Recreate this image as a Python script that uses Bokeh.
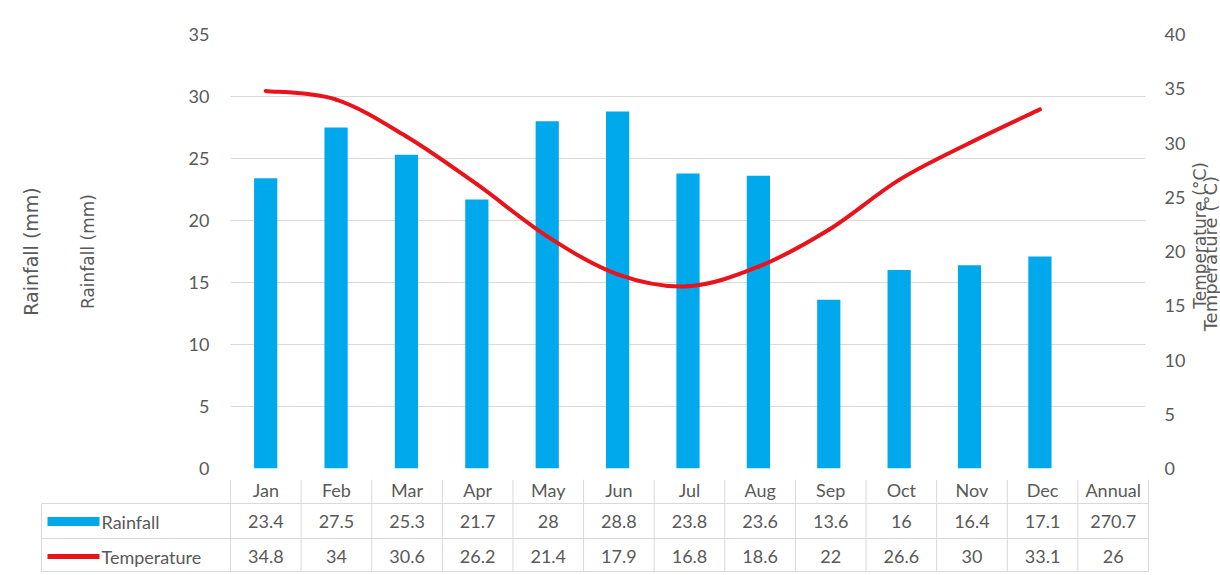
import math
from bokeh.plotting import figure
from bokeh.models import Range1d, LinearAxis, FixedTicker, ColumnDataSource
from bokeh.layouts import row
from bokeh.embed import file_html
from bokeh.resources import INLINE
from bokeh.core.properties import value

# ---------------- data ----------------
months = ["Jan", "Feb", "Mar", "Apr", "May", "Jun", "Jul", "Aug", "Sep", "Oct", "Nov", "Dec"]
rainfall = [23.4, 27.5, 25.3, 21.7, 28, 28.8, 23.8, 23.6, 13.6, 16, 16.4, 17.1]
temperature = [34.8, 34, 30.6, 26.2, 21.4, 17.9, 16.8, 18.6, 22, 26.6, 30, 33.1]
annual_label = "Annual"
annual_rainfall = 270.7
annual_temperature = 26
series_names = ["Rainfall", "Temperature"]
rain_ticks = [0, 5, 10, 15, 20, 25, 30, 35]
temp_ticks = [0, 5, 10, 15, 20, 25, 30, 35, 40]
rain_axis_title = "Rainfall (mm)"
temp_axis_title = "Temperature (°C)"

# ---------------- layout / style ----------------
W, H = 1220, 575
MAIN_H = 479
MAIN_W = 1188
FL, FR = 230, 1148
FT, FB = 34, 468
n_cols = len(months) + 1
ppu = (FR - FL) / n_cols

FONT = "Lato"
TITLE_FONT = "DejaVu Sans"
TXT = "#595959"
BLUE = "#00A9EC"
RED = "#E8131B"
GRID = "#D9D9D9"
TICK_FS = "18px"


def fmt(v):
    return f"{v:g}"


p = figure(width=MAIN_W, height=MAIN_H,
           x_range=Range1d(0, n_cols), y_range=Range1d(0, rain_ticks[-1]),
           x_axis_location=None, output_backend="svg", toolbar_location=None,
           min_border_left=FL, min_border_right=MAIN_W - FR,
           min_border_top=FT, min_border_bottom=MAIN_H - FB,
           outline_line_color=None, background_fill_color="white",
           border_fill_color="white")
p.extra_y_ranges = {"temp": Range1d(0, temp_ticks[-1])}
p.xgrid.visible = False
p.ygrid.grid_line_color = GRID
p.ygrid.ticker = FixedTicker(ticks=rain_ticks)


def style_axis(ax, ticks, label, label_fs, label_standoff, tick_standoff=21):
    ax.ticker = FixedTicker(ticks=ticks)
    ax.axis_line_color = None
    ax.major_tick_line_color = None
    ax.minor_tick_line_color = None
    ax.major_tick_out = 0
    ax.major_tick_in = 0
    ax.major_label_standoff = tick_standoff
    ax.major_label_text_font = FONT
    ax.major_label_text_font_size = TICK_FS
    ax.major_label_text_color = TXT
    ax.axis_label = label
    ax.axis_label_text_font = TITLE_FONT
    ax.axis_label_text_font_size = label_fs
    ax.axis_label_text_font_style = "normal"
    ax.axis_label_text_color = TXT
    ax.axis_label_standoff = label_standoff


ly = p.yaxis[0]
style_axis(ly, rain_ticks, rain_axis_title, "17px", 88)
ly2 = LinearAxis()
style_axis(ly2, [], rain_axis_title, "19px", 33)
p.add_layout(ly2, "left")

ry = LinearAxis(y_range_name="temp")
style_axis(ry, temp_ticks, None, "17px", 0, tick_standoff=19)
p.add_layout(ry, "right")

xs = [i + 0.5 for i in range(len(months))]
src = ColumnDataSource(dict(x=xs, rain=rainfall, temp=temperature))
p.vbar(x="x", top="rain", width=0.33, bottom=0, source=src,
       fill_color=BLUE, line_color=None)

# smoothed temperature line (Bezier segments through the data points)
n = len(xs)
bx0, by0, bx1, by1, c0x, c0y, c1x, c1y = [], [], [], [], [], [], [], []
for i in range(n - 1):
    xm, ym = (xs[i - 1], temperature[i - 1]) if i > 0 else (xs[i], temperature[i])
    xp, yp = (xs[i + 2], temperature[i + 2]) if i + 2 < n else (xs[i + 1], temperature[i + 1])
    bx0.append(xs[i]); by0.append(temperature[i])
    bx1.append(xs[i + 1]); by1.append(temperature[i + 1])
    c0x.append(xs[i] + (xs[i + 1] - xm) / 6); c0y.append(temperature[i] + (temperature[i + 1] - ym) / 6)
    c1x.append(xs[i + 1] - (xp - xs[i]) / 6); c1y.append(temperature[i + 1] - (yp - temperature[i]) / 6)
p.bezier(x0=bx0, y0=by0, x1=bx1, y1=by1, cx0=c0x, cy0=c0y, cx1=c1x, cy1=c1y,
         y_range_name="temp", line_color=RED, line_width=4, line_cap="round")

# narrow strip holding the two overlapping right-hand axis titles
SW = W - MAIN_W
s = figure(width=SW, height=MAIN_H, x_range=Range1d(0, SW), y_range=Range1d(0, 1),
           x_axis_location=None, y_axis_location=None,
           output_backend="svg", toolbar_location=None,
           min_border_left=0, min_border_right=0,
           min_border_top=FT, min_border_bottom=MAIN_H - FB,
           outline_line_color=None, background_fill_color="white",
           border_fill_color="white")
s.grid.visible = False
s.text(x=[11], y=[0.537], text=[temp_axis_title],
       angle=math.pi / 2, text_font=value(TITLE_FONT), text_font_size="17px",
       text_color=TXT, text_align="center", text_baseline="middle")
s.text(x=[21.5], y=[0.495], text=[temp_axis_title],
       angle=math.pi / 2, text_font=value(TITLE_FONT), text_font_size="18px",
       text_color=TXT, text_align="center", text_baseline="middle")

top = row(p, s, spacing=0)

# ---------------- data table (separate root placed right below) ----------------
TH = H - MAIN_H
t = figure(width=W, height=TH,
           x_range=Range1d(-FL / ppu, (W - FL) / ppu), y_range=Range1d(TH, 0),
           x_axis_location=None, y_axis_location=None,
           output_backend="svg", toolbar_location=None,
           min_border=0, outline_line_color=None,
           background_fill_color="white", border_fill_color="white")
t.grid.visible = False

x_leg = (41 - FL) / ppu
y_top, y_h, y_r, y_bot = 0, 24, 59, 92
cy_h, cy_r, cy_t = 10, 42, 77

t.segment(x0=[x_leg] * 3, y0=[y_h, y_r, y_bot],
          x1=[n_cols] * 3, y1=[y_h, y_r, y_bot],
          line_color=GRID, line_width=1)
vx = list(range(n_cols + 1))
t.segment(x0=vx, y0=[y_top] * len(vx), x1=vx, y1=[y_bot] * len(vx),
          line_color=GRID, line_width=1)
t.segment(x0=[x_leg], y0=[y_h], x1=[x_leg], y1=[y_bot],
          line_color=GRID, line_width=1)

col_x = [i + 0.5 for i in range(n_cols)]
header = months + [annual_label]
rain_row = [fmt(v) for v in rainfall + [annual_rainfall]]
temp_row = [fmt(v) for v in temperature + [annual_temperature]]

tsrc = ColumnDataSource(dict(
    x=col_x * 3,
    y=[cy_h] * n_cols + [cy_r] * n_cols + [cy_t] * n_cols,
    txt=header + rain_row + temp_row))
t.text(x="x", y="y", text="txt", source=tsrc, text_font=value(FONT),
       text_font_size=TICK_FS, text_color=TXT,
       text_align="center", text_baseline="middle")

lx0 = (47 - FL) / ppu
lx1 = (99 - FL) / ppu
t.quad(left=[lx0], right=[lx1], top=[cy_r - 4.5], bottom=[cy_r + 4.5],
       fill_color=BLUE, line_color=None)
t.segment(x0=[lx0], y0=[cy_t], x1=[lx1], y1=[cy_t], line_color=RED, line_width=5)
t.text(x=[(101 - FL) / ppu] * 2, y=[cy_r, cy_t], text=series_names,
       text_font=value(FONT), text_font_size=TICK_FS, text_color=TXT,
       text_align="left", text_baseline="middle")

open("out.html", "w").write(file_html([top, t], INLINE))
